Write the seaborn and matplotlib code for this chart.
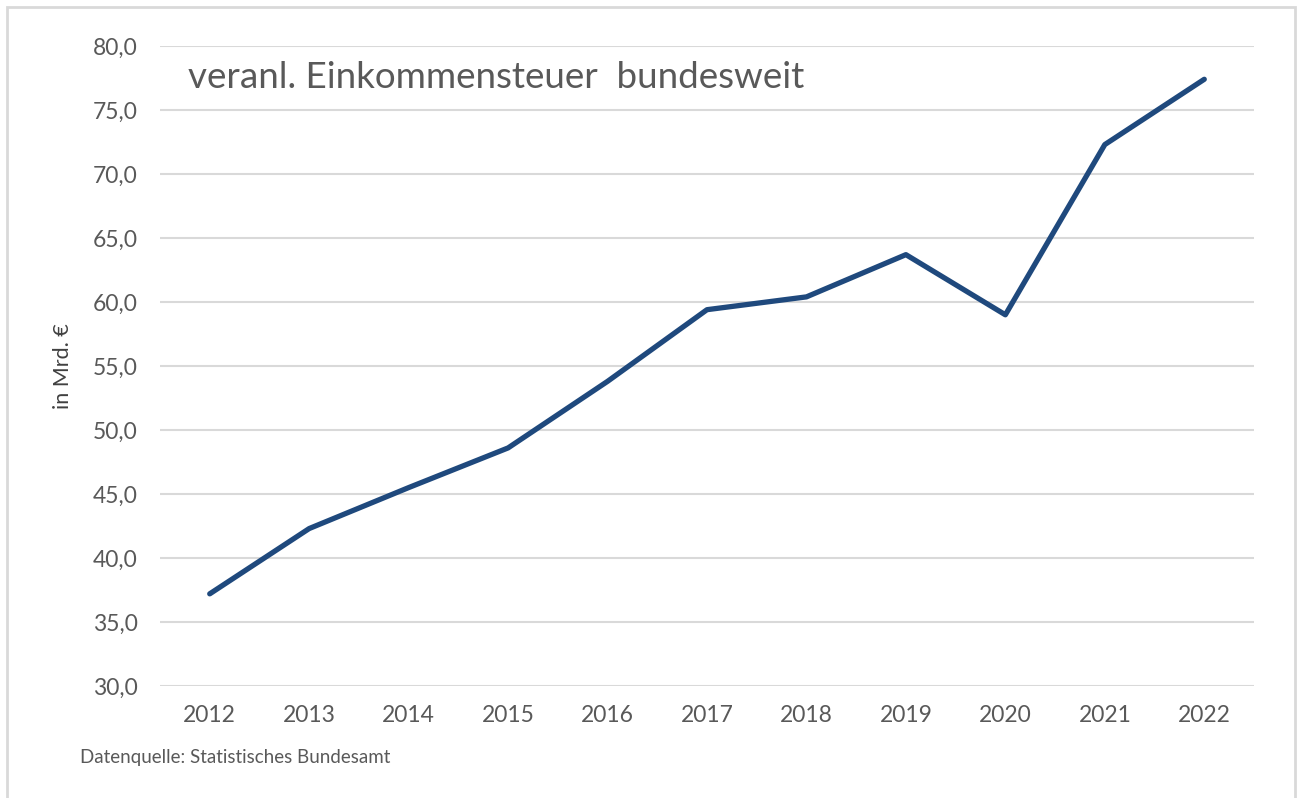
import numpy as np
import pandas as pd
import seaborn as sns
import matplotlib.pyplot as plt
from matplotlib.ticker import FuncFormatter, MultipleLocator
from matplotlib.patches import Rectangle

# Daten
jahre = [2012, 2013, 2014, 2015, 2016, 2017, 2018, 2019, 2020, 2021, 2022]
einkommensteuer = [37.2, 42.3, 45.5, 48.6, 53.8, 59.4, 60.4, 63.7, 59.0, 72.3, 77.4]

df = pd.DataFrame({"Jahr": jahre, "Mrd": einkommensteuer})

sns.set_style("white")
plt.rcParams['font.family'] = ['Lato', 'DejaVu Sans']

fig = plt.figure(figsize=(12.98, 7.98), dpi=100)
ax = fig.add_axes([160 / 1298, 1 - 686 / 798, (1254 - 160) / 1298, (686 - 46) / 798])

sns.lineplot(data=df, x="Jahr", y="Mrd", ax=ax, color="#1f497d", linewidth=3.8,
             solid_capstyle="round", solid_joinstyle="round")

ax.set_ylim(30, 80)
ax.set_xlim(2011.5, 2022.5)
ax.yaxis.set_major_locator(MultipleLocator(5))
ax.set_xticks(jahre)
ax.yaxis.set_major_formatter(FuncFormatter(lambda v, p: f"{v:.1f}".replace(".", ",")))
ax.grid(axis="y", color="#d9d9d9", linewidth=1.5)
ax.set_axisbelow(True)
for s in ax.spines.values():
    s.set_visible(False)
ax.tick_params(axis="both", length=0, labelsize=16.5, labelcolor="#595959")
ax.tick_params(axis="y", pad=16)
ax.tick_params(axis="x", pad=14)
ax.set_xlabel("")
ax.set_ylabel("in Mrd. €", fontsize=15.5, color="#404040", labelpad=14)

fig.text(188 / 1298, 1 - 78 / 798, "veranl. Einkommensteuer  bundesweit", fontsize=26.5,
         color="#595959", va="center", ha="left")
fig.text(80 / 1298, 1 - 758 / 798, "Datenquelle: Statistisches Bundesamt", fontsize=13.5,
         color="#595959", va="center", ha="left")

# Rahmen
fig.patches.append(Rectangle((7 / 1298, -0.01), (1295 - 7) / 1298, (798 - 7) / 798 + 0.01,
                             transform=fig.transFigure, fill=False,
                             edgecolor="#d9d9d9", linewidth=2))

fig.savefig("out.png", dpi=100)
